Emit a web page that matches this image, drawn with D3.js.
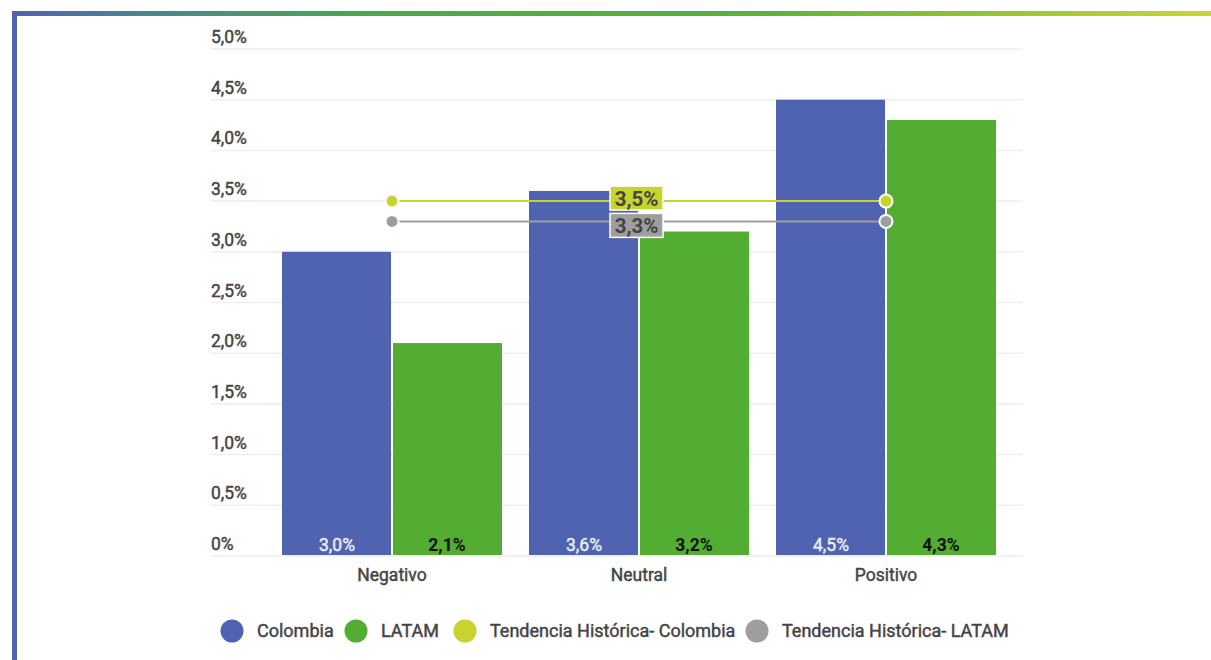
<!DOCTYPE html>
<html>
<head>
<meta charset="utf-8">
<script src="https://cdn.jsdelivr.net/npm/d3@7"></script>
<style>
  html, body { margin: 0; padding: 0; background: #fff; }
  svg { display: block; font-family: Roboto, "Noto Sans", sans-serif; }
  .med { stroke: #444; stroke-width: 0.45px; }
</style>
</head>
<body>
<svg id="chart" width="1211" height="660"></svg>
<script>
// ---- data ----
const categories = ["Negativo", "Neutral", "Positivo"];
const seriesNames = ["Colombia", "LATAM"];
const colombia = [3.0, 3.6, 4.5];
const latam = [2.1, 3.2, 4.3];
const trendNames = ["Tendencia Histórica- Colombia", "Tendencia Histórica- LATAM"];
const trendValues = [3.5, 3.3];
const yTicks = [0, 0.5, 1.0, 1.5, 2.0, 2.5, 3.0, 3.5, 4.0, 4.5, 5.0];

const colors = { Colombia: "#4f63b0", LATAM: "#52ad32" };
const trendColors = ["#c7d32f", "#9e9e9e"];

const fmt = v => v === 0 ? "0%" : d3.format(".1f")(v).replace(".", ",") + "%";

const svg = d3.select("#chart");

// ---- frame ----
const defs = svg.append("defs");
const grad = defs.append("linearGradient").attr("id", "topGrad")
  .attr("x1", "0%").attr("x2", "100%").attr("y1", "0%").attr("y2", "0%");
[[0, "#4f62b3"], [0.12, "#4a8790"], [0.3, "#4ca84a"], [0.62, "#5cb13a"], [1, "#cad630"]]
  .forEach(([o, c]) => grad.append("stop").attr("offset", o).attr("stop-color", c));
svg.append("rect").attr("x", 12).attr("y", 11).attr("width", 1199).attr("height", 5).attr("fill", "url(#topGrad)");
svg.append("rect").attr("x", 12).attr("y", 11).attr("width", 5).attr("height", 649).attr("fill", "#4f63b2");

// ---- scales ----
const y = d3.scaleLinear().domain([0, 5]).range([556, 49]);
const x0 = d3.scaleBand().domain(categories).range([268.5, 1009.5]).paddingInner(27 / 247).paddingOuter(27 / 494);
const x1 = d3.scaleBand().domain(seriesNames).range([0, x0.bandwidth()]);

// ---- grid + y labels ----
const grid = svg.append("g");
grid.selectAll("line").data(yTicks).join("line")
  .attr("x1", 211).attr("x2", 1023)
  .attr("y1", d => y(d)).attr("y2", d => y(d))
  .attr("stroke", "#eeeeee").attr("stroke-width", 1.5);
grid.selectAll("text").data(yTicks).join("text")
  .attr("class", "med")
  .attr("x", 211).attr("y", d => y(d) - 6)
  .attr("font-size", 17.5).attr("fill", "#444")
  .text(fmt);

// ---- bars ----
const rows = categories.map((c, i) => ({ cat: c, vals: [{ s: "Colombia", v: colombia[i] }, { s: "LATAM", v: latam[i] }] }));
const groups = svg.append("g").selectAll("g").data(rows).join("g")
  .attr("transform", d => `translate(${x0(d.cat)},0)`);
groups.selectAll("rect").data(d => d.vals).join("rect")
  .attr("x", d => x1(d.s) + (d.s === "LATAM" ? 1 : 0))
  .attr("width", d => x1.bandwidth() - 1)
  .attr("y", d => y(d.v))
  .attr("height", d => y(0) - y(d.v) - 1)
  .attr("fill", d => colors[d.s]);
groups.selectAll("text").data(d => d.vals).join("text")
  .attr("x", d => x1(d.s) + x1.bandwidth() / 2)
  .attr("y", 551)
  .attr("text-anchor", "middle")
  .attr("font-size", 17.5)
  .attr("font-weight", d => d.s === "LATAM" ? 700 : 400)
  .attr("fill", d => d.s === "LATAM" ? "#111" : "#eef0f8")
  .attr("stroke", d => d.s === "LATAM" ? "none" : "#eef0f8")
  .attr("stroke-width", 0.4)
  .text(d => fmt(d.v));

// ---- category labels ----
svg.append("g").selectAll("text").data(categories).join("text")
  .attr("class", "med")
  .attr("x", d => x0(d) + x0.bandwidth() / 2)
  .attr("y", 581)
  .attr("text-anchor", "middle")
  .attr("font-size", 17.5).attr("fill", "#444")
  .text(d => d);

// ---- trend lines ----
const xStart = x0(categories[0]) + x0.bandwidth() / 2;
const xEnd = x0(categories[categories.length - 1]) + x0.bandwidth() / 2;
const xMid = x0(categories[1]) + x0.bandwidth() / 2;
const trends = trendValues.map((v, i) => ({ v, color: trendColors[i], i }));
const tg = svg.append("g");
tg.selectAll("line").data(trends).join("line")
  .attr("x1", xStart).attr("x2", xEnd)
  .attr("y1", d => y(d.v)).attr("y2", d => y(d.v))
  .attr("stroke", d => d.color).attr("stroke-width", 2);
trends.forEach(t => {
  [xStart, xEnd].forEach(px => {
    tg.append("circle").attr("cx", px).attr("cy", y(t.v)).attr("r", 6.5)
      .attr("fill", t.color).attr("stroke", "#fff").attr("stroke-width", 2);
  });
});
// label boxes
const boxOffsets = [-3, 4];
trends.forEach(t => {
  const cy = y(t.v) + boxOffsets[t.i];
  const g = tg.append("g");
  g.append("rect").attr("x", xMid - 29).attr("y", cy - 12).attr("width", 53).attr("height", 24)
    .attr("fill", t.color).attr("stroke", "#fff").attr("stroke-width", 1.5);
  g.append("text").attr("x", xMid - 2.5).attr("y", cy + 7.5)
    .attr("text-anchor", "middle").attr("font-size", 20.5).attr("font-weight", 700)
    .attr("fill", "#444").text(fmt(t.v));
});

// ---- legend ----
const legendItems = [
  { name: seriesNames[0], color: colors.Colombia, cx: 232 },
  { name: seriesNames[1], color: colors.LATAM, cx: 356 },
  { name: trendNames[0], color: trendColors[0], cx: 465 },
  { name: trendNames[1], color: trendColors[1], cx: 757 }
];
const lg = svg.append("g").selectAll("g").data(legendItems).join("g");
lg.append("circle").attr("cx", d => d.cx).attr("cy", 631).attr("r", 11.5).attr("fill", d => d.color);
lg.append("text").attr("class", "med").attr("x", d => d.cx + 25).attr("y", 637)
  .attr("font-size", 18).attr("fill", "#444")
  .text(d => d.name);
</script>
</body>
</html>
